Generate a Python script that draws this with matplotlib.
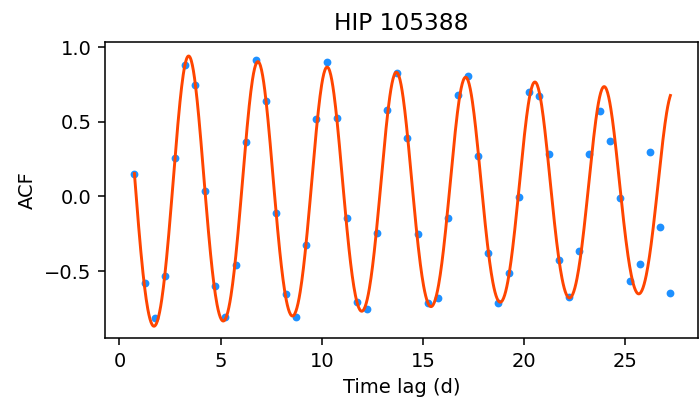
import numpy as np
import matplotlib
matplotlib.use("Agg")
import matplotlib.pyplot as plt

# ACF samples (time lag in days, ACF value)
lag = [0.74, 1.24, 1.74, 2.24, 2.74, 3.24, 3.74, 4.24, 4.74, 5.24,
       5.74, 6.24, 6.74, 7.24, 7.74, 8.24, 8.74, 9.24, 9.74, 10.24,
       10.74, 11.24, 11.74, 12.24, 12.74, 13.24, 13.74, 14.24, 14.74, 15.24,
       15.74, 16.24, 16.74, 17.24, 17.74, 18.24, 18.74, 19.24, 19.74, 20.24,
       20.74, 21.24, 21.74, 22.24, 22.74, 23.24, 23.74, 24.24, 24.74, 25.24,
       25.74, 26.24, 26.74, 27.24]
acf = [0.149, -0.581, -0.813, -0.534, 0.258, 0.882, 0.746, 0.035, -0.601, -0.805,
       -0.461, 0.367, 0.914, 0.639, -0.112, -0.651, -0.809, -0.325, 0.517, 0.900,
       0.523, -0.142, -0.704, -0.753, -0.244, 0.579, 0.829, 0.390, -0.253, -0.715,
       -0.677, -0.144, 0.677, 0.807, 0.268, -0.376, -0.715, -0.510, -0.001, 0.697,
       0.673, 0.286, -0.427, -0.675, -0.363, 0.286, 0.570, 0.369, -0.008, -0.568,
       -0.450, 0.298, -0.202, -0.644]

# fitted damped-oscillation model parameters
fit_period = 3.424
fit_amp = 0.933
fit_tau = 83.6
fit_harm = 0.05
fit_offset = 0.0

title = "HIP 105388"


def acf_model(t):
    w = 2 * np.pi / fit_period
    return fit_amp * np.exp(-t / fit_tau) * (np.cos(w * t) + fit_harm * np.cos(2 * w * t)) + fit_offset


t_fit = np.linspace(lag[0], lag[-1], 1000)

fig = plt.figure(figsize=(5, 2.85), dpi=140)
ax = fig.add_axes([0.1504, 0.153, 0.8466, 0.7417])
ax.plot(lag, acf, '.', color='dodgerblue')
ax.plot(t_fit, acf_model(t_fit), color='orangered')
ax.set_xlim(-0.7, 28.6)
ax.set_ylim(-0.947, 1.034)
ax.set_xticks([0, 5, 10, 15, 20, 25])
ax.set_yticks([-0.5, 0.0, 0.5, 1.0])
ax.set_xlabel('Time lag (d)')
ax.set_ylabel('ACF')
ax.set_title(title)
plt.savefig("out.png", dpi=140)
